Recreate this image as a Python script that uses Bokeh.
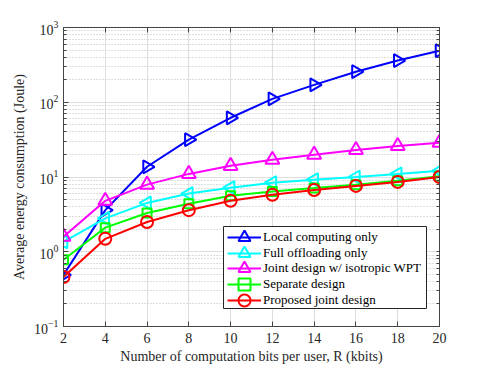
import numpy as np
from bokeh.plotting import figure
from bokeh.models import (Range1d, FixedTicker, LinearAxis, LogAxis, Legend, LegendItem,
                          BoxAnnotation)
from bokeh.embed import file_html
from bokeh.resources import INLINE

R = [2, 4, 6, 8, 10, 12, 14, 16, 18, 20]
local_only = [0.49, 3.6, 13.7, 31.6, 62, 111, 171, 256, 361, 490]
full_offload = [1.36, 2.8, 4.5, 6.0, 7.2, 8.4, 9.2, 10.0, 11.0, 12.1]
joint_iso = [1.59, 4.8, 7.9, 11.0, 14.1, 17.0, 19.9, 23.0, 26.0, 28.7]
separate = [0.78, 2.1, 3.3, 4.4, 5.6, 6.4, 7.1, 7.9, 8.9, 10.2]
proposed = [0.46, 1.49, 2.5, 3.6, 4.8, 5.8, 6.7, 7.6, 8.6, 10.0]

labels = ["Local computing only", "Full offloading only",
          "Joint design w/ isotropic WPT", "Separate design", "Proposed joint design"]
x_ticks = [2, 4, 6, 8, 10, 12, 14, 16, 18, 20]
y_ticks = [0.1, 1, 10, 100, 1000]

FONT = "Liberation Serif"
AX = "#444444"

p = figure(width=485, height=367, output_backend="svg", toolbar_location=None,
           y_axis_type="log", x_range=Range1d(2, 20), y_range=Range1d(0.1, 1000),
           min_border_left=63, min_border_right=46, min_border_top=27, min_border_bottom=41)

minor = [m * 10.0 ** e for e in range(-1, 3) for m in range(2, 10)]
yt = FixedTicker(ticks=y_ticks, minor_ticks=minor)
xt = FixedTicker(ticks=x_ticks, minor_ticks=[])
yt2 = FixedTicker(ticks=[], minor_ticks=y_ticks + minor)
xt2 = FixedTicker(ticks=[], minor_ticks=x_ticks)

p.xaxis.ticker = xt
p.yaxis.ticker = yt
p.xgrid.ticker = xt
p.ygrid.ticker = yt

for ax in (p.xaxis[0], p.yaxis[0]):
    ax.major_tick_in = 5
    ax.major_tick_out = 0
    ax.minor_tick_in = 3
    ax.minor_tick_out = 0
    ax.axis_line_color = AX
    ax.major_tick_line_color = AX
    ax.minor_tick_line_color = AX
    ax.major_label_text_font = FONT
    ax.major_label_text_font_size = "14px"
    ax.major_label_text_color = "#262626"
    ax.axis_label_text_font = FONT
    ax.axis_label_text_font_size = "14px"
    ax.axis_label_text_font_style = "normal"
    ax.axis_label_text_color = "#262626"

p.xaxis.axis_label = "Number of computation bits per user, R (kbits)"
p.yaxis.axis_label = "Average energy consumption (Joule)"
p.xaxis.major_label_standoff = 6
p.xaxis.axis_label_standoff = 3
p.yaxis.major_label_standoff = 5
p.yaxis.axis_label_standoff = 4

# top / right axes: ticks only (drawn as minor ticks, no labels)
top = LinearAxis(ticker=xt2, major_tick_line_color=None, minor_tick_in=5, minor_tick_out=0,
                 axis_line_color=AX, minor_tick_line_color=AX)
right = LogAxis(ticker=yt2, major_tick_line_color=None, minor_tick_in=3, minor_tick_out=0,
                axis_line_color=AX, minor_tick_line_color=AX)
p.add_layout(top, "above")
p.add_layout(right, "right")

p.xgrid.grid_line_color = "#dedede"
p.ygrid.grid_line_color = "#dedede"
p.ygrid.minor_grid_line_color = "#bdbdbd"
p.ygrid.minor_grid_line_dash = "1 2"
p.outline_line_color = AX

series = [
    (local_only, "#0000ff", "triangle", -np.pi / 2, 13),
    (full_offload, "#00ffff", "triangle", np.pi / 2, 13),
    (joint_iso, "#ff00ff", "triangle", 0.0, 14),
    (separate, "#00ff00", "square", 0.0, 9),
    (proposed, "#ff0000", "circle", 0.0, 12),
]

renderers = []
for (vals, col, mk, ang, sz) in series:
    ln = p.line(R, vals, line_color=col, line_width=2)
    sc = p.scatter(R, vals, marker=mk, angle=ang, size=sz,
                   line_color=col, line_width=2, fill_color=None)
    renderers.append((ln, sc))

# legend frame (screen units, relative to the plot frame's bottom-left)
box = BoxAnnotation(left=160, right=363, bottom=18, top=100,
                    left_units="screen", right_units="screen",
                    bottom_units="screen", top_units="screen",
                    fill_color="white", fill_alpha=1,
                    line_color="#262626", line_width=1, line_alpha=1)
p.add_layout(box)

# one legend per entry so that the key markers can be drawn at full size
step = 15.8
for i, (lab, (ln, sc)) in enumerate(zip(labels, renderers)):
    yc = 89.3 - i * step
    leg = Legend(items=[LegendItem(label=lab, renderers=[ln, sc])],
                 location=(164, yc - 15), label_text_font=FONT,
                 label_text_font_size="13px", label_text_color="#000000",
                 glyph_width=34, glyph_height=30, label_height=30, spacing=0,
                 padding=0, margin=0, label_standoff=2,
                 border_line_color=None, background_fill_alpha=0)
    p.add_layout(leg, "center")

open("out.html", "w").write(file_html(p, INLINE))
